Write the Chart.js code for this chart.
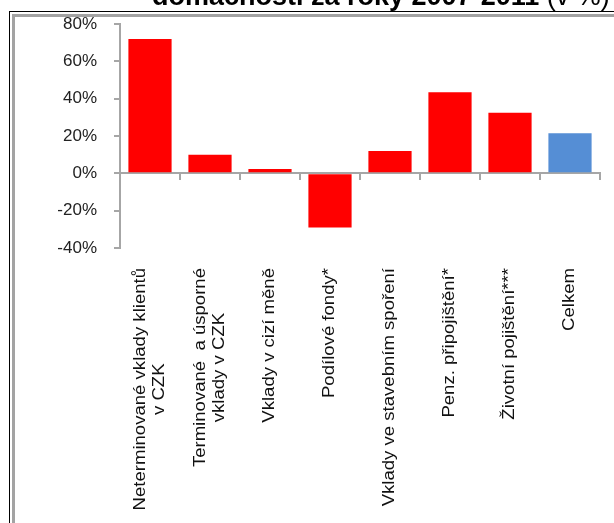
<!DOCTYPE html>
<html>
<head>
<meta charset="utf-8">
<script src="https://cdn.jsdelivr.net/npm/chart.js@4.4.1/dist/chart.umd.min.js"></script>
<style>
  html, body { margin: 0; padding: 0; background: #fff; overflow: hidden; }
  #wrap { position: relative; width: 614px; height: 523px; }
  .edge1 { position: absolute; left: 9px; top: 11px; width: 700px; height: 600px;
           border-left: 1px solid #000; border-top: 1px solid #000; }
  .edge2 { position: absolute; left: 12px; top: 14px; width: 700px; height: 600px;
           border-left: 3px solid #a3a3a3; border-top: 3px solid #a3a3a3; }
  canvas { position: absolute; left: 0; top: 0; }
</style>
</head>
<body>
<div id="wrap">
  <div class="edge1"></div>
  <div class="edge2"></div>
  <canvas id="changeChart"></canvas>
</div>
<script>
// categories of household financial assets
const categories = [
  ['Neterminované vklady klientů', 'v CZK'],
  ['Terminované  a úsporné', 'vklady v CZK'],
  'Vklady v cizí měně',
  'Podílové fondy*',
  'Vklady ve stavebním spoření',
  'Penz. připojištění*',
  'Životní pojištění***',
  'Celkem'
];
// change 2007-2011 in %
const changes = [72, 10, 2.3, -29, 12, 43.5, 32.5, 21.5];
const yTicks = [-40, -20, 0, 20, 40, 60, 80];

const AXIS = '#a6a6a6';
const LABEL_FONT = "16px 'Liberation Sans', Arial, sans-serif";

// heading line at the top, partly cut by the page edge
const headingPlugin = {
  id: 'heading',
  afterDraw(chart) {
    const ctx = chart.ctx;
    ctx.save();
    ctx.fillStyle = '#000';
    ctx.textBaseline = 'alphabetic';
    ctx.font = "bold 27px 'Liberation Sans', Arial, sans-serif";
    const bold = 'domácnosti za roky 2007-2011 ';
    ctx.fillText(bold, 152, 5);
    const w = ctx.measureText(bold).width;
    ctx.font = "27px 'Liberation Sans', Arial, sans-serif";
    ctx.fillText('(v %)', 152 + w, 5);
    ctx.restore();
  }
};

// rotated category labels under the plot, lines centred on each other
const xLabelsPlugin = {
  id: 'xLabels',
  afterDraw(chart) {
    const ctx = chart.ctx;
    const xs = chart.scales.x;
    const top = 268;
    const stretch = 1.16;
    const lineH = 19;
    ctx.save();
    ctx.font = LABEL_FONT;
    ctx.fillStyle = '#111';
    ctx.textBaseline = 'middle';
    categories.forEach((label, i) => {
      const lines = Array.isArray(label) ? label : [label];
      const widths = lines.map(l => ctx.measureText(l).width);
      const maxW = Math.max(...widths);
      const x = xs.getPixelForValue(i);
      ctx.save();
      ctx.translate(x, top);
      ctx.rotate(-Math.PI / 2);
      ctx.scale(stretch, 1);
      ctx.textAlign = 'center';
      lines.forEach((line, j) => {
        const off = (j - (lines.length - 1) / 2) * lineH;
        ctx.fillText(line, -maxW / 2, off);
      });
      ctx.restore();
    });
    ctx.restore();
  }
};

const ctx = document.getElementById('changeChart').getContext('2d');
document.getElementById('changeChart').width = 614;
document.getElementById('changeChart').height = 523;

new Chart(ctx, {
  type: 'bar',
  data: {
    labels: categories,
    datasets: [{
      data: changes,
      backgroundColor: changes.map((v, i) => i === changes.length - 1 ? '#558ed5' : '#ff0000'),
      borderWidth: 0,
      barPercentage: 0.72,
      categoryPercentage: 1
    }]
  },
  options: {
    responsive: false,
    animation: false,
    layout: { padding: { top: 24, right: 14, bottom: 275, left: 0 } },
    plugins: {
      legend: { display: false },
      title: { display: false },
      tooltip: { enabled: false }
    },
    scales: {
      x: {
        type: 'category',
        position: { y: 0 },
        offset: true,
        ticks: { display: false },
        grid: { offset: true, drawOnChartArea: false, drawTicks: true, tickLength: 6, color: AXIS, lineWidth: 2 },
        border: { color: AXIS, width: 2 }
      },
      y: {
        min: -40,
        max: 80,
        afterFit(scale) {
          // fixed axis width; label height must not push the plot down
          scale.width = 120;
          scale.paddingTop = 0;
          scale.paddingBottom = 0;
        },
        afterBuildTicks(scale) { scale.ticks = yTicks.map(v => ({ value: v })); },
        ticks: {
          padding: 17,
          color: '#222',
          font: { family: "'Liberation Sans', Arial, sans-serif", size: 17 },
          callback: v => v + '%'
        },
        grid: { drawOnChartArea: false, drawTicks: true, tickLength: 6, color: AXIS, lineWidth: 2 },
        border: { color: AXIS, width: 2 }
      }
    }
  },
  plugins: [headingPlugin, xLabelsPlugin]
});
</script>
</body>
</html>
